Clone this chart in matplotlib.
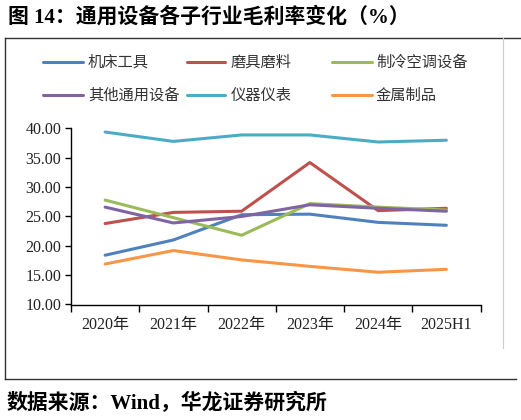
import matplotlib.pyplot as plt
from matplotlib.lines import Line2D

# categories and series values (%)
years = ["2020年", "2021年", "2022年", "2023年", "2024年", "2025H1"]
machine_tools = [18.4, 21.0, 25.3, 25.4, 24.0, 23.5]
abrasives = [23.8, 25.7, 25.9, 34.2, 26.0, 26.4]
refrigeration = [27.8, 24.8, 21.8, 27.2, 26.6, 26.1]
other_general = [26.6, 23.9, 25.0, 27.0, 26.4, 25.9]
instruments = [39.4, 37.8, 38.9, 38.9, 37.7, 38.0]
metal_products = [16.9, 19.2, 17.6, 16.5, 15.5, 16.0]

series_names = ["机床工具", "磨具磨料", "制冷空调设备",
                "其他通用设备", "仪器仪表", "金属制品"]
series_values = [machine_tools, abrasives, refrigeration,
                 other_general, instruments, metal_products]
colors = ["#4F81BD", "#C0504D", "#9BBB59", "#8064A2", "#4BACC6", "#F79646"]

W, H = 521, 420
serif_cjk = ["Liberation Serif", "Noto Sans CJK SC"]


def fx(px):
    return px / W


def fy(py):
    return 1 - py / H


fig = plt.figure(figsize=(5.21, 4.2), dpi=100)
ax = fig.add_axes([fx(71), fy(304.5), fx(480.5 - 71), fy(128.5) - fy(304.5)])

x = list(range(len(years)))
for name, vals, c in zip(series_names, series_values, colors):
    ax.plot(x, vals, color=c, lw=2.2, solid_capstyle="round", label=name)

ax.set_xlim(-0.5, len(years) - 0.5)
ax.set_ylim(10, 40)
ax.set_yticks(range(10, 41, 5))
ax.set_yticklabels([f"{v:.2f}" for v in range(10, 41, 5)],
                   family=serif_cjk, fontsize=11.5, color="#222222")
ax.set_xticks([i - 0.5 for i in range(len(years) + 1)])
ax.set_xticklabels([])
ax.set_xticks(x, minor=True)
ax.set_xticklabels(years, minor=True, family=serif_cjk, fontsize=11.5,
                   color="#222222")
ax.tick_params(axis="x", which="major", direction="out", length=5, width=1)
ax.tick_params(axis="x", which="minor", length=0, pad=9)
ax.tick_params(axis="y", direction="out", length=4, width=1, pad=3)
for side in ("top", "right"):
    ax.spines[side].set_visible(False)
for side in ("left", "bottom"):
    ax.spines[side].set_linewidth(1)
    ax.spines[side].set_color("black")

# legend drawn by hand to match the fixed column layout
line_x = [(43, 83), (187, 225), (332, 372)]
text_x = [88, 231, 376]
row_y = [62, 95]
for i, (name, c) in enumerate(zip(series_names, colors)):
    r, col = divmod(i, 3)
    x0, x1 = line_x[col]
    fig.add_artist(Line2D([fx(x0), fx(x1)], [fy(row_y[r])] * 2,
                          color=c, lw=2.2, solid_capstyle="round"))
    fig.text(fx(text_x[col]), fy(row_y[r]), name, family="Noto Sans CJK SC",
             fontsize=11, va="center", ha="left", color="#333333")

# frame around the chart
frame = "#333333"
fig.add_artist(Line2D([fx(5), fx(521)], [fy(38), fy(38)], color=frame, lw=1))
fig.add_artist(Line2D([fx(5), fx(5)], [fy(38), fy(379)], color=frame, lw=1))
fig.add_artist(Line2D([fx(5), fx(516)], [fy(379), fy(379)], color=frame, lw=1))
fig.add_artist(Line2D([fx(503), fx(503)], [fy(38), fy(348)],
                      color="#cccccc", lw=0.8))

fig.text(fx(8), fy(17), "图 14：通用设备各子行业毛利率变化（%）",
         family=serif_cjk, fontsize=15, weight="bold", va="center", ha="left")
fig.text(fx(7), fy(403), "数据来源：Wind，华龙证券研究所",
         family=serif_cjk, fontsize=15, weight="bold", va="center", ha="left")

fig.savefig("out.png", dpi=100)
